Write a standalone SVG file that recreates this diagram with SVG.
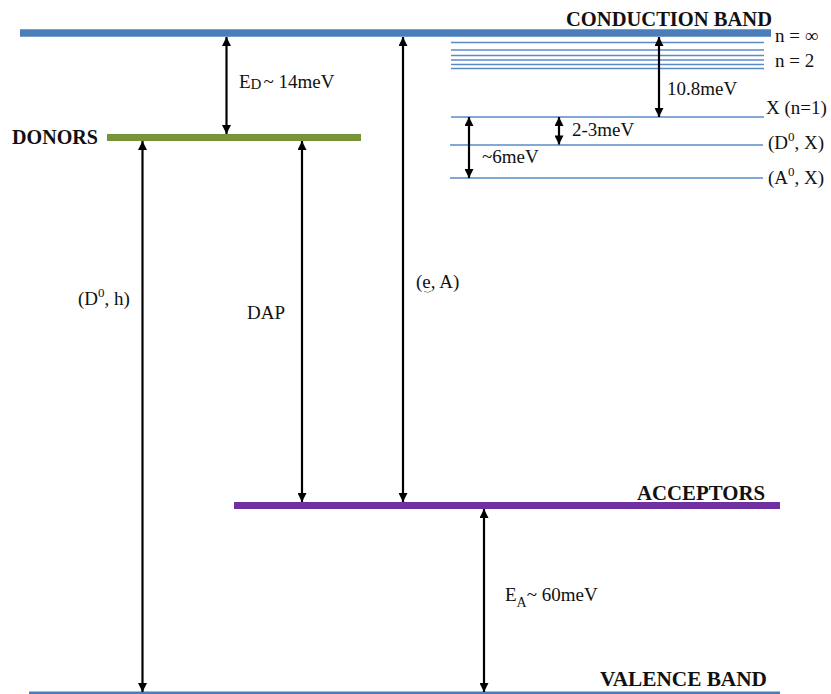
<svg xmlns="http://www.w3.org/2000/svg" width="831" height="694" viewBox="0 0 831 694">
<style>
  .lbl { font-family: "Liberation Serif", "Times New Roman", serif; font-size: 19px; fill: #111; }
  .bold { font-family: "Liberation Serif", "Times New Roman", serif; font-size: 20.5px; font-weight: bold; fill: #111; }
  .sm { font-size: 13px; }
  .thin { stroke: #5b8bc7; stroke-width: 1.6; fill: none; }
  .arr { stroke: #000; stroke-width: 2.2; fill: none; marker-start: url(#ah); marker-end: url(#ah); }
</style>
<defs>
  <marker id="ah" viewBox="0 0 10 10" refX="10" refY="5" markerUnits="userSpaceOnUse" markerWidth="10" markerHeight="9" orient="auto-start-reverse">
    <path d="M0,0 L10,5 L0,10 z" fill="#000"/>
  </marker>
</defs>
<rect width="831" height="694" fill="#fff"/>

<g id="conduction-band">
  <line x1="20" y1="33" x2="771" y2="33" stroke="#4a7ebb" stroke-width="7.5"/>
  <text class="bold" x="566" y="26" textLength="206" lengthAdjust="spacingAndGlyphs">CONDUCTION BAND</text>
</g>

<g id="exciton-continuum">
  <line class="thin" x1="451" y1="42.5" x2="764" y2="42.5"/>
  <line class="thin" x1="451" y1="50" x2="764" y2="50"/>
  <line class="thin" x1="451" y1="55.5" x2="764" y2="55.5"/>
  <line class="thin" x1="451" y1="60" x2="764" y2="60"/>
  <line class="thin" x1="451" y1="64.5" x2="764" y2="64.5"/>
  <line class="thin" x1="451" y1="68.5" x2="764" y2="68.5"/>
  <text class="lbl" x="775" y="42">n = ∞</text>
  <text class="lbl" x="775" y="67">n = 2</text>
</g>

<g id="free-exciton">
  <line class="thin" x1="451" y1="117" x2="764" y2="117"/>
  <text class="lbl" x="766" y="114">X (n=1)</text>
</g>

<g id="donor-bound-exciton">
  <line class="thin" x1="450" y1="145" x2="763" y2="145"/>
  <text class="lbl" x="768" y="149">(D<tspan class="sm" dy="-8">0</tspan><tspan dy="8">, X)</tspan></text>
</g>

<g id="acceptor-bound-exciton">
  <line class="thin" x1="450" y1="178" x2="763" y2="178"/>
  <text class="lbl" x="768" y="184">(A<tspan class="sm" dy="-8">0</tspan><tspan dy="8">, X)</tspan></text>
</g>

<g id="donors">
  <line x1="107" y1="137.5" x2="361" y2="137.5" stroke="#77933c" stroke-width="7"/>
  <text class="bold" x="12" y="144" textLength="86" lengthAdjust="spacingAndGlyphs">DONORS</text>
</g>

<g id="acceptors">
  <line x1="234" y1="505.5" x2="780" y2="505.5" stroke="#7030a0" stroke-width="7"/>
  <text class="bold" x="637" y="500" textLength="128" lengthAdjust="spacingAndGlyphs">ACCEPTORS</text>
</g>

<g id="valence-band">
  <line x1="29" y1="694" x2="780" y2="694" stroke="#4a7ebb" stroke-width="5"/>
  <text class="bold" x="600" y="686" textLength="167" lengthAdjust="spacingAndGlyphs">VALENCE BAND</text>
</g>

<g id="connectors">
  <line class="arr" x1="226.5" y1="37" x2="226.5" y2="134"/>
  <line class="arr" x1="403" y1="37" x2="403" y2="502"/>
  <line class="arr" x1="659" y1="37" x2="659" y2="117"/>
  <line class="arr" x1="559" y1="117" x2="559" y2="144.5"/>
  <line class="arr" x1="469" y1="117" x2="469" y2="178"/>
  <line class="arr" x1="142.5" y1="141" x2="142.5" y2="692"/>
  <line class="arr" x1="302" y1="141" x2="302" y2="502"/>
  <line class="arr" x1="484" y1="509" x2="484" y2="692"/>
</g>

<g id="labels">
  <text class="lbl" x="239" y="88">E<tspan font-size="15" dy="1">D</tspan><tspan dy="-1" dx="2">~ 14meV</tspan></text>
  <text class="lbl" x="667" y="95">10.8meV</text>
  <text class="lbl" x="572" y="136">2-3meV</text>
  <text class="lbl" x="482" y="163">~6meV</text>
  <text class="lbl" x="78" y="305">(D<tspan class="sm" dy="-8">0</tspan><tspan dy="8">, h)</tspan></text>
  <text class="lbl" x="247" y="319">DAP</text>
  <text class="lbl" x="416" y="288">(e, A)</text>
  <path d="M424,292 q1.2,-1.5 2.4,0 t2.4,0 t2.4,0" stroke="#6aa84f" stroke-width="1" fill="none"/>
  <text class="lbl" x="505" y="601">E<tspan font-size="14" dy="6">A</tspan><tspan dy="-6">~ 60meV</tspan></text>
</g>
</svg>
